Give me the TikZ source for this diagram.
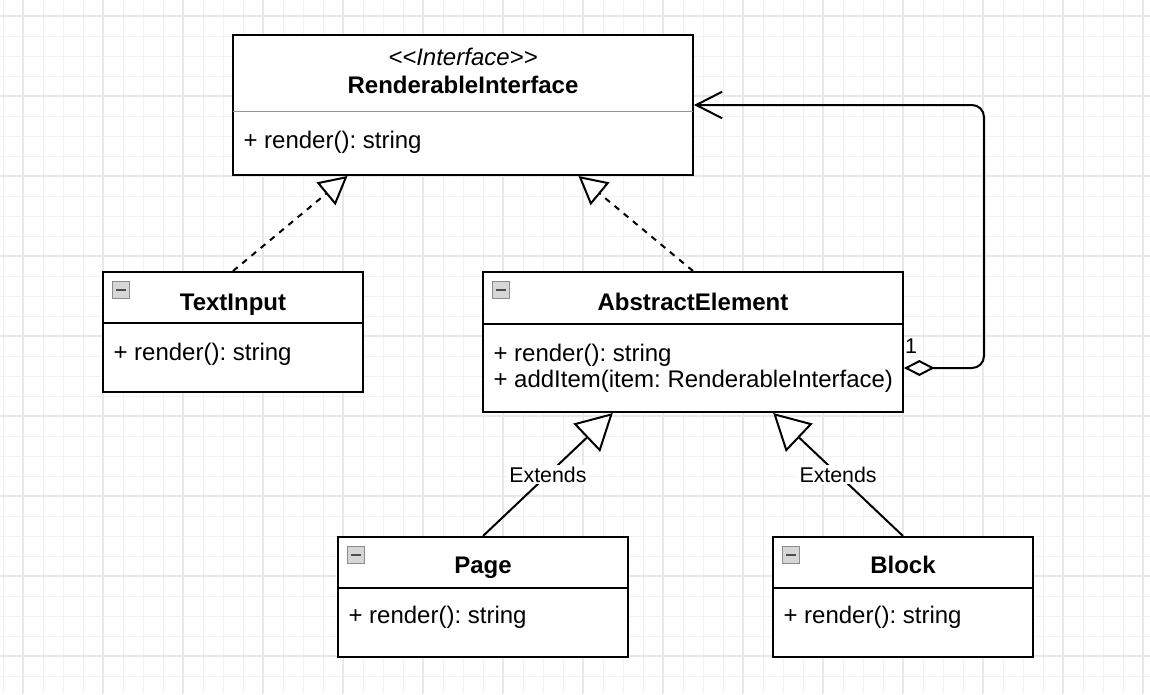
\documentclass[tikz,border=0pt]{standalone}
\usepackage{fontspec}
\setmainfont{Liberation Sans}
\usetikzlibrary{arrows.meta,calc}

\definecolor{gridminor}{RGB}{242,242,242}
\definecolor{gridmajor}{RGB}{232,232,232}
\definecolor{iconfill}{RGB}{214,214,214}
\definecolor{iconline}{RGB}{140,140,140}
\definecolor{divgray}{RGB}{150,150,150}

\tikzset{every picture/.style={line width=0.75pt}}
\tikzset{
  classbox/.style={draw, fill=white, line width=1.5pt, inner sep=0pt},
  title/.style={font=\fontsize{18}{20.25}\selectfont\bfseries, inner sep=0pt, anchor=base},
  member/.style={font=\fontsize{18}{18.75}\selectfont, inner sep=0pt, anchor=base west},
  collapse/.style={draw=iconline, fill=iconfill, line width=0.75pt, minimum size=12.75pt, inner sep=0pt, anchor=north west,
    path picture={\fill[black!70] ($(path picture bounding box.center)+(-4pt,-1pt)$) rectangle ($(path picture bounding box.center)+(4pt,1pt)$);}},
  realize/.style={line width=1.5pt, dash pattern=on 4.5pt off 4.5pt, -{Triangle[open, fill=white, length=21pt, width=22pt]}},
  extends/.style={line width=1.5pt, -{Triangle[open, fill=white, length=27pt, width=29pt]}},
  aggregate/.style={line width=1.5pt, rounded corners=9pt, {Diamond[open, fill=white, length=23pt, width=12pt]}-{Straight Barb[length=19.5pt, width=20pt]}},
  lbl/.style={font=\fontsize{16}{18}\selectfont, fill=white, inner sep=1pt},
}

\begin{document}
\frenchspacing
\begin{tikzpicture}[x=0.75pt,y=0.75pt,yscale=-1,xscale=1]
\useasboundingbox (0,0) rectangle (1150,694);

%Grid
\fill[white] (0,0) rectangle (1150,694);
\foreach \x in {3,23,...,1143} \draw[gridminor] (\x,0) -- (\x,694);
\foreach \y in {16,36,...,676} \draw[gridminor] (0,\y) -- (1150,\y);
\foreach \x in {23,103,...,1143} \draw[gridmajor, line width=1.1pt] (\x,0) -- (\x,694);
\foreach \y in {16,96,...,656} \draw[gridmajor, line width=1.1pt] (0,\y) -- (1150,\y);

%Shape: Class RenderableInterface
\node[classbox, minimum width=345pt, minimum height=105pt] (ri) at (463,105) {};
\draw[divgray] ($(ri.north west)+(1,77)$) -- ($(ri.north east)+(-1,77)$);
%Shape: Class TextInput
\node[classbox, minimum width=195pt, minimum height=90pt] (ti) at (233,332) {};
\draw[line width=1.5pt] ($(ti.north west)+(0,52)$) -- ($(ti.north east)+(0,52)$);
\node[collapse] (ti-icon) at ($(ti.north west)+(10,10)$) {};
%Shape: Class AbstractElement
\node[classbox, minimum width=315pt, minimum height=105pt] (ae) at (693,342) {};
\draw[line width=1.5pt] ($(ae.north west)+(0,53)$) -- ($(ae.north east)+(0,53)$);
\node[collapse] (ae-icon) at ($(ae.north west)+(10,10)$) {};
%Shape: Class Page
\node[classbox, minimum width=217.5pt, minimum height=90pt] (page) at (483,597) {};
\draw[line width=1.5pt] ($(page.north west)+(0,52)$) -- ($(page.north east)+(0,52)$);
\node[collapse] (page-icon) at ($(page.north west)+(10,10)$) {};
%Shape: Class Block
\node[classbox, minimum width=195pt, minimum height=90pt] (block) at (903,597) {};
\draw[line width=1.5pt] ($(block.north west)+(0,52)$) -- ($(block.north east)+(0,52)$);
\node[collapse] (block-icon) at ($(block.north west)+(10,10)$) {};

%Connectors
\draw[realize] (ti.north) -- ($(ri.south west)!.25!(ri.south east)$);
\draw[realize] (ae.north) -- ($(ri.south west)!.75!(ri.south east)$);
\draw[extends] (page.north) -- node[lbl] (ext-page) {Extends} ($(ae.south west)!.31!(ae.south east)$);
\draw[extends] (block.north) -- node[lbl] (ext-block) {Extends} ($(ae.south west)!.69!(ae.south east)$);
\coordinate (agg) at ($(ae.east)+(0,26)$);
\draw[aggregate] (agg) -- ++(80,0) |- (ri.east);

% Text Node
\node[title, font=\fontsize{18}{20.25}\selectfont\itshape] (ri-stereo) at (463,65) {<\kern0pt<Interface>\kern0pt>};
% Text Node
\node[title] (ri-name) at (463,93) {RenderableInterface};
% Text Node
\node[member] (ri-m) at (243,148) {+ render(): string};
% Text Node
\node[title] (ti-name) at (233,310) {TextInput};
% Text Node
\node[member] (ti-m) at (113,360) {+ render(): string};
% Text Node
\node[title] (ae-name) at (693,310) {AbstractElement};
% Text Node
\node[member] (ae-m1) at (493,361) {+ render(): string};
% Text Node
\node[member] (ae-m2) at (493,387) {+ addItem(item: RenderableInterface)};
% Text Node
\node[title] (page-name) at (483,573) {Page};
% Text Node
\node[member] (page-m) at (348,623) {+ render(): string};
% Text Node
\node[title] (block-name) at (903,573) {Block};
% Text Node
\node[member] (block-m) at (783,623) {+ render(): string};
% Text Node
\node[lbl, fill=none] (mult) at (911,346) {1};

\end{tikzpicture}
\end{document}
